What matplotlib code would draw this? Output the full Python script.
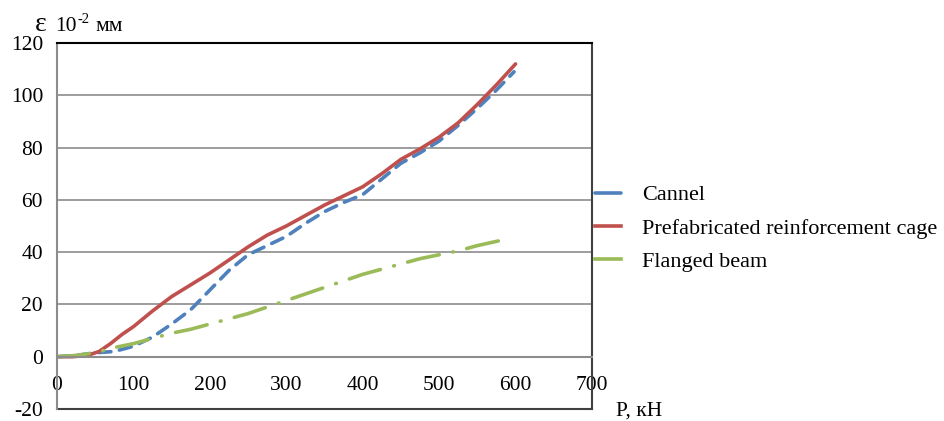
import matplotlib
matplotlib.use('Agg')
import matplotlib.pyplot as plt
from matplotlib.lines import Line2D

plt.rcParams['font.family'] = ['Liberation Serif', 'DejaVu Serif']
plt.rcParams['axes.unicode_minus'] = False

# данные
cannel_x = [0, 25, 50, 75, 100, 125, 150, 175, 200, 225, 250, 275, 300, 325, 350,
            375, 400, 425, 450, 475, 500, 525, 550, 575, 598]
cannel_y = [0, 0.5, 1.5, 2, 4, 7.5, 12.5, 18, 25.5, 33, 39, 42.5, 46, 51, 55.5,
            59, 62, 68, 74, 78, 82.5, 88.5, 95, 102, 109]

cage_x = [0, 20, 40, 55, 70, 85, 100, 125, 150, 175, 200, 225, 250, 275, 300,
          325, 350, 375, 400, 425, 450, 475, 500, 525, 550, 575, 600]
cage_y = [0, 0, 0.5, 2, 5, 8.5, 11.5, 17.5, 23, 27.5, 32, 37, 42, 46.5, 50,
          54, 58, 61.5, 65, 70, 75.5, 79.5, 84, 89.5, 96.5, 104, 112]

flanged_x = [0, 25, 50, 75, 100, 125, 150, 175, 200, 225, 250, 275, 300, 325,
             350, 375, 400, 425, 450, 475, 500, 525, 550, 584]
flanged_y = [0, 0.5, 1.5, 3.5, 5, 7, 9, 10.5, 12.5, 14.5, 16.5, 19, 21.5, 24,
             26.5, 29, 31.5, 33.5, 35.5, 37.5, 39, 40.5, 42.5, 44.7]

labels = ['Cannel', 'Prefabricated reinforcement cage', 'Flanged beam']
x_ticks = [0, 100, 200, 300, 400, 500, 600, 700]
y_ticks = [-20, 0, 20, 40, 60, 80, 100, 120]

W, H = 944, 421
fig = plt.figure(figsize=(W/100, H/100), dpi=100)
ax = fig.add_axes([57/W, 12/H, 535/W, 366/H])

lw = 2.6
blue, red, green = '#4F81BD', '#C0504D', '#9BBB59'
for y in [20, 40, 60, 80, 100]:
    ax.axhline(y, color='#8c8c8c', lw=1.2, zorder=0)

ax.plot(cannel_x, cannel_y, color=blue, lw=lw, dashes=(3.4, 2.4),
        dash_capstyle='round')
ax.plot(cage_x, cage_y, color=red, lw=lw, solid_capstyle='round')
ax.plot(flanged_x, flanged_y, color=green, lw=lw,
        dashes=(9.0, 3.8, 0.2, 3.8), dash_capstyle='round')

ax.set_xlim(0, 700)
ax.set_ylim(-20, 120)
ax.set_xticks(x_ticks)
ax.set_yticks(y_ticks)
ax.tick_params(length=0, labelsize=15.5)
ax.tick_params(axis='y', pad=10)
ax.tick_params(axis='x', pad=14)

# ось X проходит через 0
ax.spines['bottom'].set_position(('data', 0))
ax.spines['bottom'].set_color('#8c8c8c')
ax.spines['bottom'].set_linewidth(1.5)
ax.axhline(-20, color='#404040', lw=1.5, clip_on=False)
ax.spines['top'].set_color('black')
ax.spines['top'].set_linewidth(1.5)
ax.spines['right'].set_color('#404040')
ax.spines['right'].set_linewidth(1.5)
ax.spines['left'].set_color('#8c8c8c')
ax.spines['left'].set_linewidth(1.5)

# подпись оси Y: ε 10^-2 мм
base = 1 - 31/H
fig.text(35/W, base, 'ε', fontsize=20, va='baseline', ha='left')
fig.text(55/W, base, '10', fontsize=15.5, va='baseline', ha='left')
fig.text(77/W, 1 - 23/H, '-2', fontsize=10.5, va='baseline', ha='left')
fig.text(95/W, base, 'мм', fontsize=15.5, va='baseline', ha='left')
fig.text(616/W, 1 - 411/H, 'P, кН', fontsize=15.5, va='center', ha='left')

# легенда: короткие сплошные отрезки как в Excel
handles = [Line2D([0, 0.6], [0, 0], color=blue, lw=lw, solid_capstyle='round'),
           Line2D([0], [0], color=red, lw=lw),
           Line2D([0], [0], color=green, lw=lw)]
leg = fig.legend(handles=handles, labels=labels, loc='center left',
                 bbox_to_anchor=(595/W, 1 - 228.5/H), frameon=False,
                 fontsize=16, handlelength=1.17, handletextpad=0.95,
                 labelspacing=0.58, borderaxespad=0, borderpad=0)

fig.savefig('out.png', dpi=100)
